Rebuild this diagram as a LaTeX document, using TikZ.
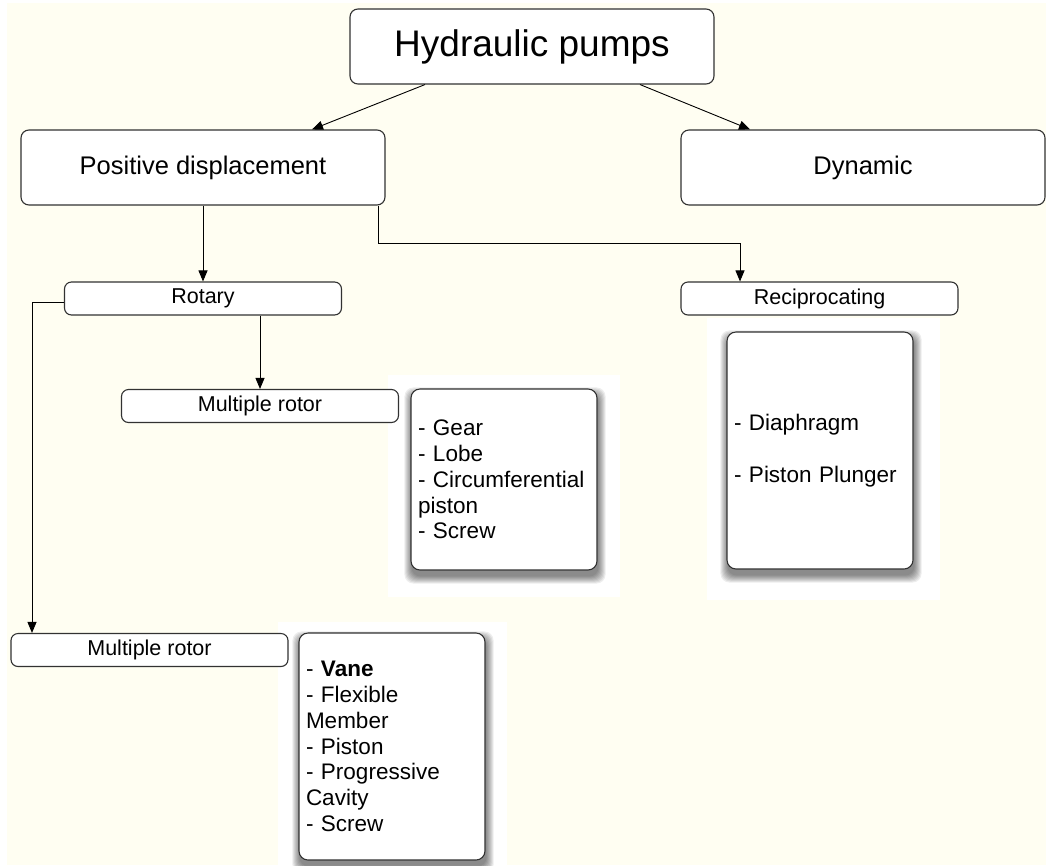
\documentclass[tikz,border=0pt]{standalone}
\usepackage{fontspec}
\setmainfont{Liberation Sans}
\usetikzlibrary{arrows.meta,calc}
\definecolor{cream}{RGB}{255,254,242}
\definecolor{edge}{RGB}{50,50,50}
\pgfdeclarelayer{bg}
\pgfsetlayers{bg,main}
\begin{document}
\begin{tikzpicture}[x=1pt,y=-1pt,
  box/.style={draw=edge, fill=white, line width=1.1pt, rounded corners=8pt, inner sep=0pt},
  bigbox/.style={box, minimum width=364pt, minimum height=75pt, font=\fontsize{25.5}{30}\selectfont},
  smallbox/.style={box, minimum width=277pt, minimum height=33pt, rounded corners=7pt, font=\fontsize{21.5}{25}\selectfont},
  listbox/.style={box, text width=172pt, inner sep=7pt, align=left, font=\fontsize{22.5}{25.8}\selectfont, rounded corners=9pt},
  arr/.style={-{Triangle[length=11pt,width=9pt]}, line width=0.9pt},
]
\useasboundingbox (0,0) rectangle (1046,865);

% nodes
\node[box, minimum width=364pt, minimum height=75pt, font=\fontsize{37}{44}\selectfont] (hp) at (532,46.5) {Hydraulic pumps};
\node[bigbox] (pd) at (203,167.5) {Positive displacement};
\node[bigbox] (dy) at (863,167.5) {Dynamic};
\node[smallbox] (ro) at (203,298.5) {Rotary};
\node[smallbox] (re) at (819.5,298.5) {Reciprocating};
\node[smallbox] (mr1) at (260,406) {Multiple rotor};
\node[smallbox] (mr2) at (149.5,650) {Multiple rotor};
\node[listbox, minimum height=181pt] (l1) at (504,479.5) {- Gear\\- Lobe\\- Circumferential\\piston\\- Screw};
\node[listbox, minimum height=237pt] (l2) at (820,450.5) {- Diaphragm\\[25.8pt]- Piston Plunger};
\node[listbox, minimum height=227pt] (l3) at (392,746.5) {- \textbf{Vane}\\- Flexible\\Member\\- Piston\\- Progressive\\Cavity\\- Screw};

% background
\begin{pgfonlayer}{bg}
  \fill[cream] (7,3) rectangle (1046,865);
  \fill[white] (388,375) rectangle (620,597);
  \fill[white] (707,318) rectangle (940,600);
  \fill[white] (278,622) rectangle (507,865);
  \foreach \n in {l1,l2,l3}{
    \foreach \k in {0,...,7}{
      \fill[black, fill opacity=0.07, rounded corners=9pt]
        ($(\n.south west)+({1-\k},{6+\k})$) rectangle ($(\n.north east)+({1+\k},{6-\k})$);
    }
  }
\end{pgfonlayer}

% connectors
\draw[arr] ([xshift=-107pt]hp.south) -- ([xshift=109pt]pd.north);
\draw[arr] ([xshift=108pt]hp.south) -- ([xshift=-113pt]dy.north);
\draw[arr] (pd.south) -- (ro.north);
\draw[arr] ([xshift=175pt]pd.south) -- ++(0,38) -| ([xshift=-79.5pt]re.north);
\draw[arr] (ro.south -| mr1.north) -- (mr1.north);
\draw[arr] ([yshift=-3.5pt]ro.west) -| ([xshift=-117.5pt]mr2.north);
\end{tikzpicture}
\end{document}
